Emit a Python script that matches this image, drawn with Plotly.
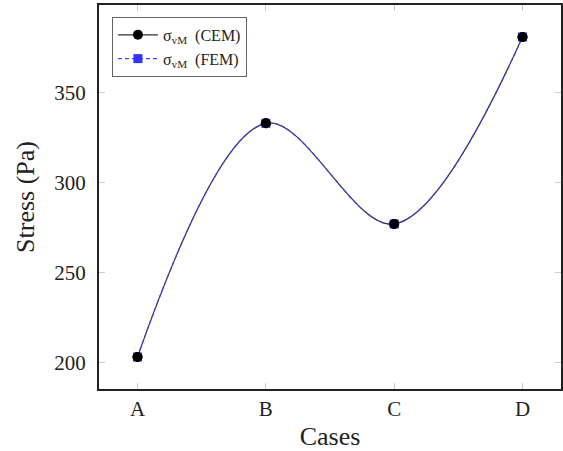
import plotly.graph_objects as go

cases = ["A", "B", "C", "D"]
case_pos = [0, 1, 2, 3]
stress_cem = [203, 333, 277, 381]
stress_fem = [203, 333, 277, 381]
y_ticks = [200, 250, 300, 350]

FONT = "Liberation Serif"

fig = go.Figure()

fig.add_trace(go.Scatter(
    x=case_pos, y=stress_cem, mode="lines+markers",
    name="σ<sub>vM</sub>  (CEM)",
    line=dict(color="#333", width=1.2, shape="spline", smoothing=1),
    marker=dict(symbol="circle", size=10, color="black"),
))
fig.add_trace(go.Scatter(
    x=case_pos, y=stress_fem, mode="lines+markers",
    name="σ<sub>vM</sub>  (FEM)",
    line=dict(color="#4040ff", width=1.2, dash="4px,3px", shape="spline", smoothing=1),
    marker=dict(symbol="square", size=9, color="#3333ff"),
))
fig.add_trace(go.Scatter(
    x=case_pos, y=stress_cem, mode="markers", showlegend=False,
    marker=dict(symbol="circle", size=10, color="black"),
    hoverinfo="skip",
))

fig.update_layout(
    width=563, height=451,
    margin=dict(l=99, r=2, t=5, b=62),
    paper_bgcolor="white", plot_bgcolor="white",
    font=dict(family=FONT, size=22, color="#222"),
    legend=dict(
        x=0.028, y=0.969, xanchor="left", yanchor="top",
        bordercolor="#666", borderwidth=1, bgcolor="white",
        font=dict(family=FONT, size=16, color="#222"),
        tracegroupgap=0, itemwidth=40,
    ),
    xaxis=dict(
        range=[-0.3, 3.3], tickvals=case_pos, ticktext=cases,
        showgrid=False, zeroline=False,
        showline=True, linecolor="#222", linewidth=2, mirror="ticks",
        ticks="inside", ticklen=6, tickcolor="#ccc", tickwidth=1,
        title=dict(text="Cases", standoff=10),
        tickfont=dict(size=21),
        ticklabelstandoff=0, automargin=False,
    ),
    yaxis=dict(
        range=[185.2, 398.8], tickvals=y_ticks,
        showgrid=False, zeroline=False,
        showline=True, linecolor="#222", linewidth=2, mirror="ticks",
        ticks="inside", ticklen=6, tickcolor="#ccc", tickwidth=1,
        title=dict(text="Stress (Pa)", standoff=12),
        tickfont=dict(size=21),
        ticklabelstandoff=7, automargin=False,
    ),
)

fig.write_html(
    "out.html",
    config={"displayModeBar": False},
    post_script="document.body.style.margin='0';document.body.style.padding='0';",
)
